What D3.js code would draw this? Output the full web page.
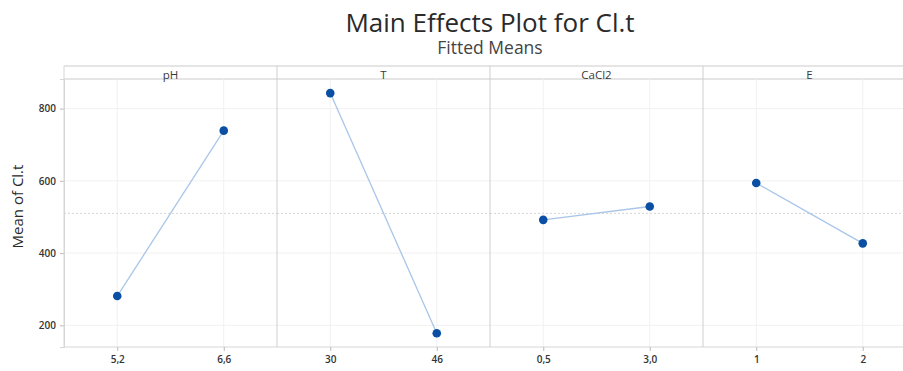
<!DOCTYPE html>
<html>
<head>
<meta charset="utf-8">
<script src="https://cdn.jsdelivr.net/npm/d3@7"></script>
<style>
  html, body { margin: 0; padding: 0; background: #fff; }
  svg { display: block; font-family: "Open Sans", "Noto Sans", sans-serif; }
</style>
</head>
<body>
<svg id="chart" width="903" height="371"></svg>
<script>
// Factors and their two levels
const factors = ["pH", "T", "CaCl2", "E"];
const levelLabels = [["5,2", "6,6"], ["30", "46"], ["0,5", "3,0"], ["1", "2"]];
// Fitted means of Cl.t at each level
const meanValues = [[281, 739], [843, 178], [492, 529], [594, 427]];
const grandMean = 510;
const yTicks = [200, 400, 600, 800];

const svg = d3.select("#chart");
const plotLeft = 64, panelW = 213, plotTop = 66, stripH = 13, plotBottom = 347;
const plotRight = plotLeft + panelW * factors.length;

const y = d3.scaleLinear().domain([140, 882]).range([plotBottom, plotTop + stripH]);
const panelScale = d3.scaleBand().domain(factors).range([plotLeft, plotRight]).padding(0);

// Title
svg.append("text").attr("x", (plotLeft + plotRight) / 2).attr("y", 32)
  .attr("text-anchor", "middle").attr("font-size", 26).attr("fill", "#2a2a2a")
  .text("Main Effects Plot for Cl.t");
svg.append("text").attr("x", (plotLeft + plotRight) / 2).attr("y", 54)
  .attr("text-anchor", "middle").attr("font-size", 17.5).attr("fill", "#444")
  .text("Fitted Means");

// Y axis label
svg.append("text")
  .attr("transform", `translate(23,${(plotTop + plotBottom) / 2}) rotate(-90)`)
  .attr("text-anchor", "middle").attr("font-size", 15).attr("fill", "#2a2a2a")
  .text("Mean of Cl.t");

// Horizontal gridlines
svg.append("g").selectAll("line").data(yTicks).join("line")
  .attr("x1", plotLeft).attr("x2", plotRight)
  .attr("y1", d => y(d)).attr("y2", d => y(d))
  .attr("stroke", "#f1f1f1").attr("stroke-width", 1);

// Y axis
const yAxis = svg.append("g").attr("transform", `translate(${plotLeft},0)`)
  .call(d3.axisLeft(y).tickValues(yTicks).tickSize(4).tickPadding(4));
yAxis.select(".domain").attr("stroke", "#d6d6d6");
yAxis.selectAll(".tick line").attr("stroke", "#bbb");
yAxis.selectAll(".tick text").attr("font-size", 10).attr("fill", "#333")
  .attr("font-family", "Open Sans, sans-serif").attr("font-weight", 600);

// strip borders
[plotTop, plotTop + stripH].forEach(yy => {
  svg.append("line").attr("x1", plotLeft).attr("x2", plotRight)
    .attr("y1", yy).attr("y2", yy).attr("stroke", "#dcdcdc").attr("stroke-width", 1.5);
});
svg.append("line").attr("x1", plotLeft).attr("x2", plotLeft)
  .attr("y1", plotTop).attr("y2", plotBottom).attr("stroke", "#d6d6d6");

// Panels
factors.forEach((f, i) => {
  const x0 = panelScale(f);
  const x = d3.scalePoint().domain(levelLabels[i]).range([x0, x0 + panelW]).padding(0.5);
  const g = svg.append("g");

  // vertical gridlines
  g.selectAll("line.vg").data(levelLabels[i]).join("line").attr("class", "vg")
    .attr("x1", d => x(d)).attr("x2", d => x(d))
    .attr("y1", plotTop + stripH).attr("y2", plotBottom)
    .attr("stroke", "#f1f1f1");

  // grand mean reference
  g.append("line").attr("x1", x0).attr("x2", x0 + panelW)
    .attr("y1", y(grandMean)).attr("y2", y(grandMean))
    .attr("stroke", "#d4d4d4").attr("stroke-dasharray", "2,2");

  // x axis
  const xa = g.append("g").attr("transform", `translate(0,${plotBottom})`)
    .call(d3.axisBottom(x).tickSize(4).tickPadding(5));
  xa.select(".domain").attr("stroke", "#d6d6d6").attr("d", `M${x0},0H${x0 + panelW}`);
  xa.selectAll(".tick line").attr("stroke", "#bbb");
  xa.selectAll(".tick text").attr("font-size", 10).attr("fill", "#333")
    .attr("font-family", "Open Sans, sans-serif").attr("font-weight", 600);

  // panel divider
  if (i > 0) {
    g.append("line").attr("x1", x0).attr("x2", x0)
      .attr("y1", plotTop).attr("y2", plotBottom)
      .attr("stroke", "#cfcfcf");
  }

  // strip label
  g.append("text").attr("x", x0 + panelW / 2).attr("y", plotTop + 13)
    .attr("text-anchor", "middle").attr("font-size", 11.5).attr("fill", "#3a3a3a")
    .text(f);

  // effect line and markers
  const pts = levelLabels[i].map((l, j) => [x(l), y(meanValues[i][j])]);
  g.append("path").attr("d", d3.line()(pts))
    .attr("fill", "none").attr("stroke", "#a9c6e8").attr("stroke-width", 1.3);
  g.selectAll("circle").data(pts).join("circle")
    .attr("cx", d => d[0]).attr("cy", d => d[1]).attr("r", 4.3)
    .attr("fill", "#0a4fa3");
});
</script>
</body>
</html>
